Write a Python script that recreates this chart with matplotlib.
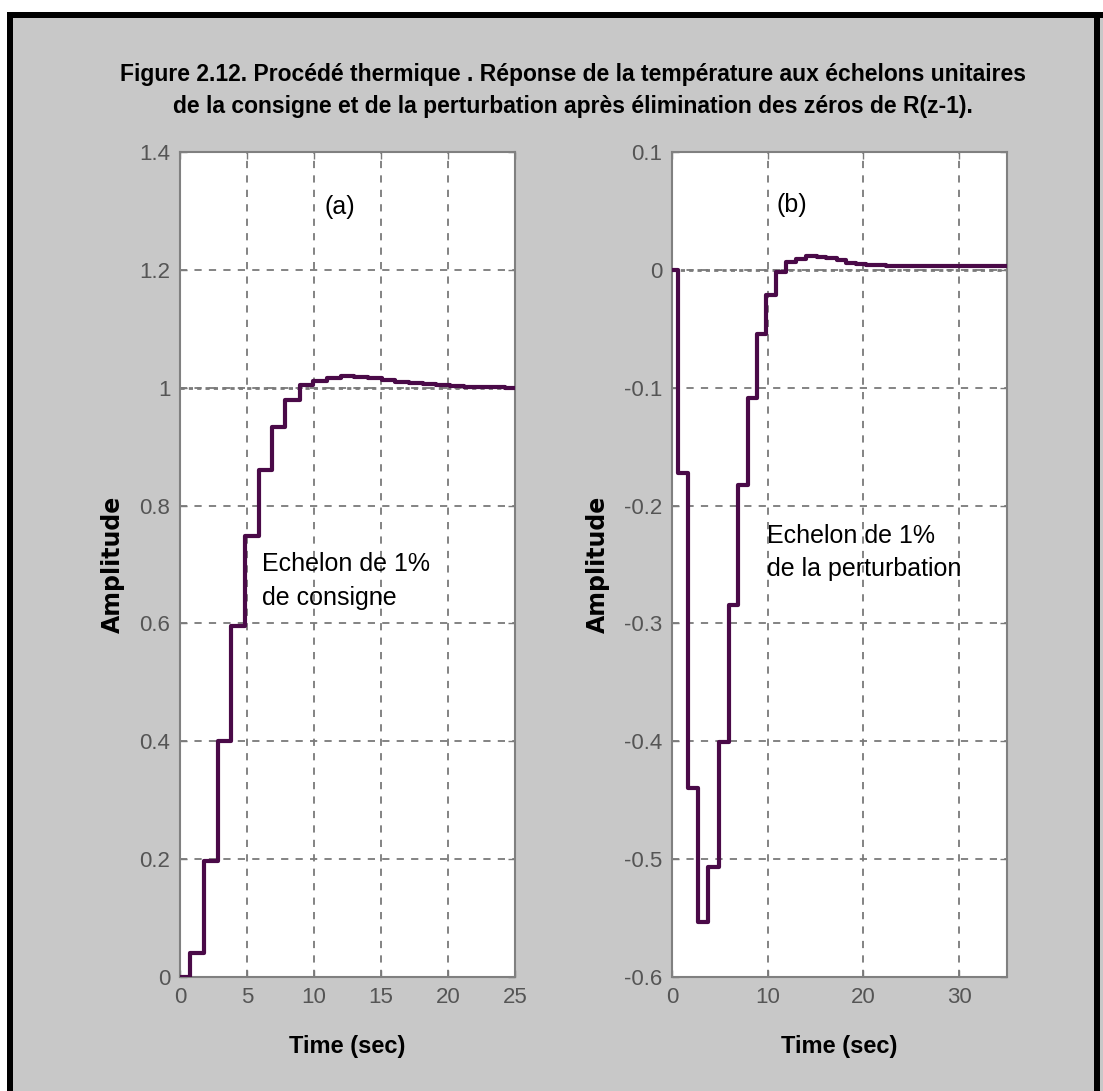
import matplotlib
matplotlib.use("Agg")
import matplotlib.pyplot as plt
from matplotlib.patches import Rectangle
from matplotlib import font_manager as fm

# ---------------- data ----------------
# (a) setpoint step response: step times (sec) and held values
t_a = [0, 0.76, 1.79, 2.81, 3.84, 4.86, 5.86, 6.86, 7.86, 8.94, 9.95,
       10.97, 11.99, 13.0, 14.02, 15.04, 16.06, 17.08, 18.1, 19.12,
       20.14, 21.16, 22.18, 23.2, 24.22, 25.0]
y_a = [0.0, 0.04, 0.197, 0.40, 0.595, 0.749, 0.86, 0.933, 0.98, 1.004,
       1.012, 1.017, 1.02, 1.019, 1.016, 1.013, 1.010, 1.008, 1.006, 1.005,
       1.003, 1.002, 1.001, 1.001, 1.0, 1.0]

# (b) disturbance step response
t_b = [0, 0.63, 1.69, 2.75, 3.8, 4.86, 5.91, 6.9, 7.95, 8.85, 9.85,
       10.9, 11.95, 13.0, 14.0, 15.1, 16.1, 17.2, 18.2, 19.2, 20.3,
       21.3, 22.4, 23.4, 24.5, 25.5, 26.6, 27.6, 28.7, 29.7, 30.8,
       31.8, 32.9, 33.9, 35.0]
y_b = [0.0, -0.1725, -0.44, -0.553, -0.507, -0.401, -0.284, -0.1825,
       -0.1085, -0.054, -0.021, -0.002, 0.007, 0.009, 0.012, 0.011,
       0.010, 0.008, 0.006, 0.005, 0.004, 0.004, 0.003, 0.003, 0.003,
       0.003, 0.003, 0.003, 0.003, 0.003, 0.003, 0.003, 0.003, 0.003, 0.003]

xticks_a = [0, 5, 10, 15, 20, 25]
yticks_a = [0, 0.2, 0.4, 0.6, 0.8, 1.0, 1.2, 1.4]
yticklabels_a = ["0", "0.2", "0.4", "0.6", "0.8", "1", "1.2", "1.4"]
xticks_b = [0, 10, 20, 30]
yticks_b = [-0.6, -0.5, -0.4, -0.3, -0.2, -0.1, 0, 0.1]
yticklabels_b = ["-0.6", "-0.5", "-0.4", "-0.3", "-0.2", "-0.1", "0", "0.1"]

title = ("Figure 2.12. Procédé thermique . Réponse de la température aux échelons unitaires\n"
         "de la consigne et de la perturbation après élimination des zéros de R(z-1).")
label_a = "Echelon de 1%\nde consigne"
label_b = "Echelon de 1%\nde la perturbation"

# ---------------- style ----------------
avail = {f.name for f in fm.fontManager.ttflist}
narrow = "Liberation Sans Narrow" if "Liberation Sans Narrow" in avail else "Liberation Sans"
plt.rcParams["font.family"] = [narrow, "DejaVu Sans"]

W, H = 1103, 1091
fig = plt.figure(figsize=(W / 100, H / 100), dpi=100, facecolor="white")

def px_rect(x0, y0, x1, y1, color):
    fig.add_artist(Rectangle((x0 / W, 1 - y1 / H), (x1 - x0) / W, (y1 - y0) / H,
                             transform=fig.transFigure, facecolor=color,
                             edgecolor="none", zorder=-10))

gray_bg = "#c8c8c8"
px_rect(13, 18, W, H, gray_bg)
px_rect(7, 12, W, 18, "black")
px_rect(7, 12, 13, H, "black")
px_rect(1094, 12, 1100, H, "black")

line_col = "#4a0a48"
grid_col = "#7a7a7a"
tick_col = "#555555"

def make_ax(left_px, xlim, ylim, xt, yt, ytl):
    ax = fig.add_axes([left_px / W, 1 - 977 / H, 335 / W, 825 / H])
    ax.set_facecolor("white")
    ax.set_xlim(*xlim)
    ax.set_ylim(*ylim)
    ax.set_xticks(xt)
    ax.set_xticklabels([str(v) for v in xt])
    ax.set_yticks(yt)
    ax.set_yticklabels(ytl)
    ax.tick_params(direction="in", length=5, width=1, colors=grid_col,
                   labelcolor=tick_col, labelsize=16, top=True, right=True, pad=7)
    ax.grid(True, color=grid_col, linestyle=(0, (4, 4)), linewidth=1.3)
    for s in ax.spines.values():
        s.set_color("#808080")
        s.set_linewidth(1.5)
    ax.set_ylabel("Amplitude", fontsize=17, fontweight="bold", family=["DejaVu Sans"],
                  labelpad=10)
    ax.set_xlabel("Time (sec)", fontsize=17, fontweight="bold", labelpad=20)
    return ax

ax1 = make_ax(180, (0, 25), (0, 1.4), xticks_a, yticks_a, yticklabels_a)
ax1.axhline(1.0, color=grid_col, linestyle=(0, (1.5, 1.5)), linewidth=2, zorder=2)
ax1.step(t_a, y_a, where="post", color=line_col, linewidth=3.0, zorder=3)
ax1.text(11.9, 1.306, "(a)", fontsize=18, ha="center", va="center",
         family=["Liberation Sans"])
ax1.text(6.1, 0.672, label_a, fontsize=18, ha="left", va="center",
         family=["Liberation Sans"], linespacing=1.5)

ax2 = make_ax(672, (0, 35), (-0.6, 0.1), xticks_b, yticks_b, yticklabels_b)
ax2.axhline(0.0, color=grid_col, linestyle=(0, (1.5, 1.5)), linewidth=2, zorder=2)
ax2.step(t_b, y_b, where="post", color=line_col, linewidth=3.0, zorder=3)
ax2.text(12.5, 0.055, "(b)", fontsize=18, ha="center", va="center",
         family=["Liberation Sans"])
ax2.text(9.95, -0.24, label_b, fontsize=18, ha="left", va="center",
         family=["Liberation Sans"], linespacing=1.5)

fig.text(573 / W, 1 - 90 / H, title, ha="center", va="center", fontsize=16.5,
         fontweight="bold", linespacing=1.5)

fig.savefig("out.png", dpi=100, facecolor=fig.get_facecolor())
